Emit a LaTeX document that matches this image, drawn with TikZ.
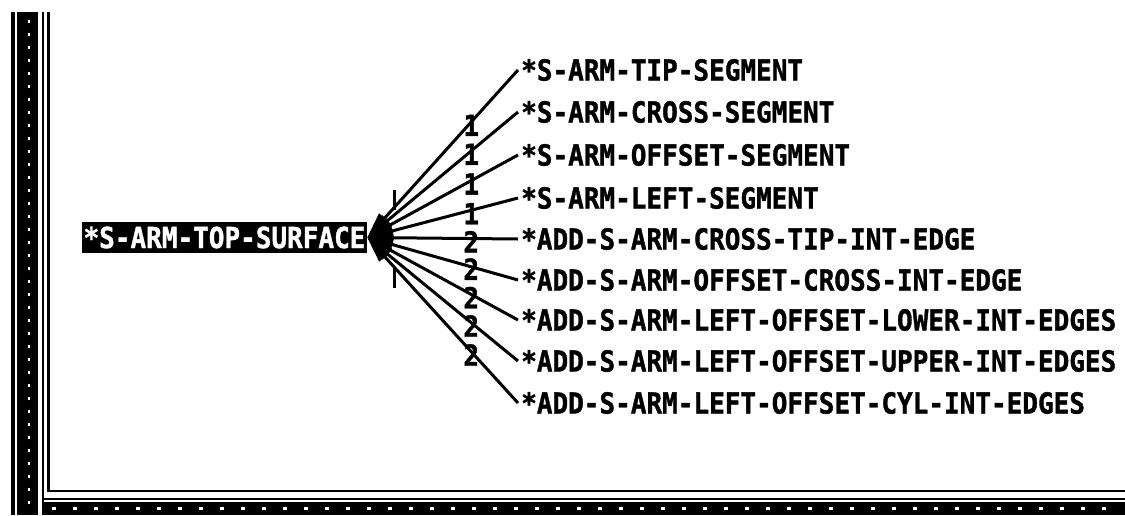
\documentclass[tikz,border=0pt]{standalone}
\usepackage{fontspec}
\setmonofont{DejaVu Sans Mono}[FakeStretch=0.897, BoldFeatures={FakeBold=1.2}]
\usetikzlibrary{arrows.meta}

\tikzset{
  screenfont/.style={font=\ttfamily\bfseries\fontsize{29}{29}\selectfont},
  rootbox/.style={screenfont, fill=black, text=white, inner sep=0pt,
    minimum width=285pt, minimum height=31pt},
  item/.style={screenfont, inner sep=0pt, anchor=west},
  link/.style={line width=3pt, -{Triangle[length=26pt,width=14pt]}},
  mult/.style={font=\ttfamily\bfseries\fontsize{29}{29}\selectfont,
    inner sep=0pt, text height=20pt, text depth=0pt,
    pos=0.31, yshift=-4pt},
  border/.style={line width=2.2pt},
  speck/.style={white, line width=2.5pt, dash pattern=on 3pt off 10pt}
}

\begin{document}
\begin{tikzpicture}[x=1pt,y=-1pt]
  \useasboundingbox (0,0) rectangle (1125,515);

  % window frame: left scroll bar, double border, bottom status bar
  \fill[black] (11,12) rectangle (38,515);
  \draw[white, line width=1.2pt] (16,12) -- (16,515);
  \draw[speck] (29,20) -- (29,510);
  \draw[border] (43,12) -- (43,515);
  \draw[border] (48.5,12) -- (48.5,491) -- (1125,491);
  \draw[border] (43,499) -- (1125,499);
  \fill[black] (43,502) rectangle (1125,515);
  \draw[speck, dash pattern=on 4pt off 17pt] (52,508.5) -- (1120,508.5);

  % root of the graph
  \node[rootbox] (root) at (224.5,237.5) {*S-ARM-TOP-SURFACE};

  % children
  \node[item] (c1) at (521,70)  {*S-ARM-TIP-SEGMENT};
  \node[item] (c2) at (521,112) {*S-ARM-CROSS-SEGMENT};
  \node[item] (c3) at (521,155) {*S-ARM-OFFSET-SEGMENT};
  \node[item] (c4) at (521,198) {*S-ARM-LEFT-SEGMENT};
  \node[item] (c5) at (521,239) {*ADD-S-ARM-CROSS-TIP-INT-EDGE};
  \node[item] (c6) at (521,280) {*ADD-S-ARM-OFFSET-CROSS-INT-EDGE};
  \node[item] (c7) at (521,320) {*ADD-S-ARM-LEFT-OFFSET-LOWER-INT-EDGES};
  \node[item] (c8) at (521,361) {*ADD-S-ARM-LEFT-OFFSET-UPPER-INT-EDGES};
  \node[item] (c9) at (521,403) {*ADD-S-ARM-LEFT-OFFSET-CYL-INT-EDGES};

  % links into the root, each with its multiplicity
  \draw[link] ([xshift=-3pt]c1.west) -- node[mult] (m1) {1} (root.east);
  \draw[link] ([xshift=-3pt]c2.west) -- node[mult] (m2) {1} (root.east);
  \draw[link] ([xshift=-3pt]c3.west) -- node[mult] (m3) {1} (root.east);
  \draw[link] ([xshift=-3pt]c4.west) -- node[mult] (m4) {1} (root.east);
  \draw[link] ([xshift=-3pt]c5.west) -- node[mult] (m5) {2} (root.east);
  \draw[link] ([xshift=-3pt]c6.west) -- node[mult, yshift=1pt] (m6) {2} (root.east);
  \draw[link] ([xshift=-3pt]c7.west) -- node[mult] (m7) {2} (root.east);
  \draw[link] ([xshift=-3pt]c8.west) -- node[mult] (m8) {2} (root.east);
  \draw[link] ([xshift=-3pt]c9.west) -- node[mult] (m9) {2} (root.east);

  % short ticks at the fan of arrow heads
  \draw[line width=3pt] ([xshift=27pt,yshift=28pt]root.east) -- ([xshift=27pt,yshift=48pt]root.east);
  \draw[line width=3pt] ([xshift=27pt,yshift=-30pt]root.east) -- ([xshift=27pt,yshift=-50pt]root.east);
\end{tikzpicture}
\end{document}
